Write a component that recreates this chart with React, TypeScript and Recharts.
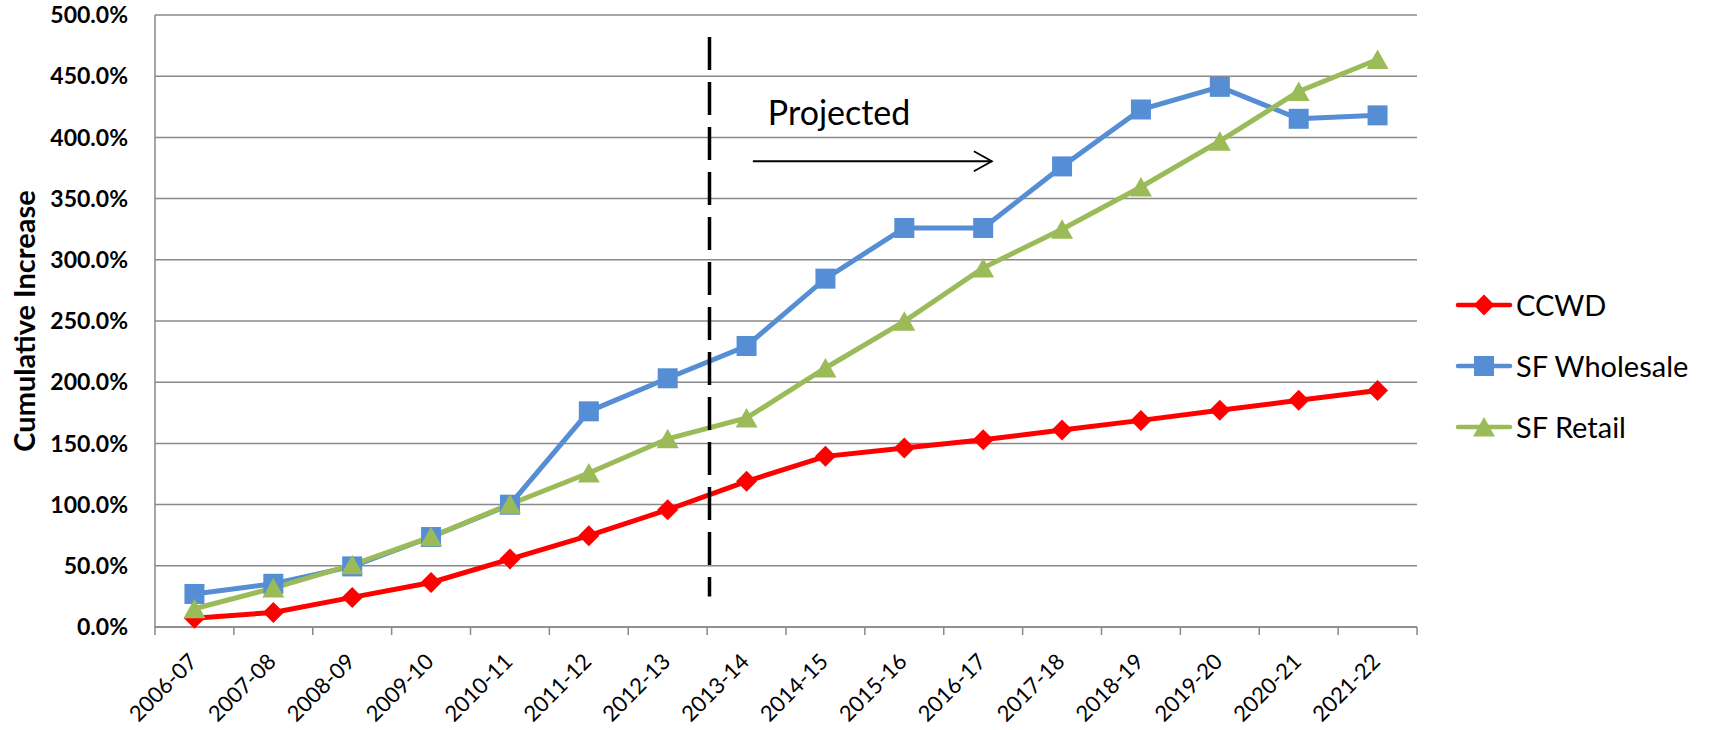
import {
  LineChart,
  Line,
  XAxis,
  YAxis,
  CartesianGrid,
  Legend,
  Label,
  ReferenceLine,
} from "recharts";

// Fiscal years
const years = [
  "2006-07", "2007-08", "2008-09", "2009-10", "2010-11", "2011-12", "2012-13", "2013-14",
  "2014-15", "2015-16", "2016-17", "2017-18", "2018-19", "2019-20", "2020-21", "2021-22",
];

// Cumulative increase, percent
const ccwd = [7.2, 11.9, 24.2, 36.4, 55.5, 74.6, 95.8, 119, 139.4, 146.2, 153, 161, 168.8, 177, 185.2, 193.3];
const sfWholesale = [27, 35.3, 49.5, 73.5, 99.9, 176.2, 203.2, 229.6, 284.6, 326, 326, 376.3, 422.8, 441.3, 415.2, 418];
const sfRetail = [14.9, 31.8, 50.8, 73.7, 100.3, 125.8, 153.8, 170.8, 211.6, 249.7, 293.4, 325, 359.5, 396.9, 437.5, 463.6];

const yTicks = [0, 50, 100, 150, 200, 250, 300, 350, 400, 450, 500];

// x is measured in categories: category i sits in the middle of [i, i + 1]
const projectionStart = 7.03; // dashed line between 2012-13 and 2013-14
const arrowFrom = 7.58;
const arrowTo = 10.61;
const arrowLevel = 380.5;

const series = [
  { key: "ccwd", name: "CCWD", color: "#FF0000" },
  { key: "wholesale", name: "SF Wholesale", color: "#558ED5" },
  { key: "retail", name: "SF Retail", color: "#9BBB59" },
];

const data = years.map((year, i) => ({
  pos: i + 0.5,
  year,
  ccwd: ccwd[i],
  wholesale: sfWholesale[i],
  retail: sfRetail[i],
}));

const FONT = "Lato, 'Liberation Sans', sans-serif";
const CHART_W = 1735;
const CHART_H = 730;
const MARGIN = { top: 15, right: 318, bottom: 0, left: 0 };
const YAXIS_W = 155;
const XAXIS_H = 103;
const AXIS_Y = CHART_H - MARGIN.bottom - XAXIS_H;
const BAND = (CHART_W - MARGIN.left - MARGIN.right - YAXIS_W) / years.length;
const GRID = "#898989";

const Diamond = ({ cx, cy, color, r = 10.5 }: any) => (
  <path d={`M${cx} ${cy - r}L${cx + r} ${cy}L${cx} ${cy + r}L${cx - r} ${cy}Z`} fill={color} />
);
const Square = ({ cx, cy, color, s = 10 }: any) => (
  <rect x={cx - s} y={cy - s} width={s * 2} height={s * 2} fill={color} />
);
const Triangle = ({ cx, cy, color }: any) => (
  <path d={`M${cx} ${cy - 10}L${cx + 11} ${cy + 9.5}L${cx - 11} ${cy + 9.5}Z`} fill={color} />
);

const markerFor: Record<string, any> = { ccwd: Diamond, wholesale: Square, retail: Triangle };

const dotRenderer = (key: string, color: string) => (p: any) => {
  const Marker = markerFor[key];
  return <Marker key={`${key}-${p.index}`} cx={p.cx} cy={p.cy} color={color} />;
};

// label centred on the category, tick marks on the category boundaries (Excel style)
const XTick = (props: any) => {
  const { x, payload, index } = props;
  const last = index === years.length - 1;
  const ax = x + 4;
  const ay = AXIS_Y + 36;
  return (
    <g>
      <line x1={x - BAND / 2} x2={x - BAND / 2} y1={AXIS_Y} y2={AXIS_Y + 8} stroke={GRID} strokeWidth={1.5} />
      {last && (
        <line x1={x + BAND / 2} x2={x + BAND / 2} y1={AXIS_Y} y2={AXIS_Y + 8} stroke={GRID} strokeWidth={1.5} />
      )}
      <text
        x={ax}
        y={ay}
        transform={`rotate(-45 ${ax} ${ay})`}
        textAnchor="end"
        fontFamily={FONT}
        fontSize={22}
        fill="#000"
      >
        {years[Math.floor(payload.value)]}
      </text>
    </g>
  );
};

const ArrowShape = (p: any) => {
  const { x1, y1, x2, y2 } = p;
  return (
    <g>
      <line x1={x1} y1={y1} x2={x2} y2={y2} stroke="#000" strokeWidth={1.8} />
      <polyline
        points={`${x2 - 18},${y2 - 10} ${x2},${y2} ${x2 - 18},${y2 + 10}`}
        fill="none"
        stroke="#000"
        strokeWidth={1.8}
      />
      <text x={x1 + 15} y={y1 - 36} fontFamily={FONT} fontSize={34} fill="#000">
        Projected
      </text>
    </g>
  );
};

const LegendContent = () => (
  <div style={{ fontFamily: FONT, fontSize: 29, color: "#000" }}>
    {series.map((s) => {
      const Marker = markerFor[s.key];
      return (
        <div key={s.key} style={{ display: "flex", alignItems: "center", height: 61 }}>
          <svg width={58} height={30}>
            <line x1={3} x2={55} y1={15} y2={15} stroke={s.color} strokeWidth={4.5} strokeLinecap="round" />
            <Marker cx={29} cy={15} color={s.color} />
          </svg>
          <span style={{ marginLeft: 3, whiteSpace: "nowrap" }}>{s.name}</span>
        </div>
      );
    })}
  </div>
);

export default function App() {
  return (
    <div style={{ position: "absolute", left: 0, top: 0, background: "#fff" }}>
      <LineChart width={CHART_W} height={CHART_H} data={data} margin={MARGIN}>
        <CartesianGrid vertical={false} stroke={GRID} strokeWidth={1.5} />
        <XAxis
          dataKey="pos"
          type="number"
          domain={[0, years.length]}
          allowDataOverflow
          ticks={data.map((d) => d.pos)}
          interval={0}
          height={XAXIS_H}
          tickLine={false}
          axisLine={{ stroke: GRID, strokeWidth: 1.5 }}
          tick={<XTick />}
        />
        <YAxis
          width={YAXIS_W}
          domain={[0, 500]}
          ticks={yTicks}
          tickFormatter={(v: number) => `${v.toFixed(1)}%`}
          tickLine={false}
          tickSize={0}
          tickMargin={27}
          axisLine={{ stroke: GRID, strokeWidth: 1.5 }}
          tick={{ fontFamily: FONT, fontSize: 23, fontWeight: 700, fill: "#000" }}
        >
          <Label
            content={(p: any) => {
              const vb = p.viewBox;
              const cy = vb.y + vb.height / 2;
              return (
                <text
                  x={23}
                  y={cy}
                  transform={`rotate(-90 23 ${cy})`}
                  textAnchor="middle"
                  dominantBaseline="central"
                  fontFamily={FONT}
                  fontSize={29}
                  fontWeight={700}
                  fill="#000"
                >
                  Cumulative Increase
                </text>
              );
            }}
          />
        </YAxis>
        <Legend
          align="center"
          verticalAlign="middle"
          content={<LegendContent />}
          wrapperStyle={{ left: 1455, top: 274, width: 280 }}
        />
        {series.map((s) => (
          <Line
            key={s.key}
            dataKey={s.key}
            name={s.name}
            stroke={s.color}
            strokeWidth={5}
            dot={dotRenderer(s.key, s.color)}
            activeDot={false}
            isAnimationActive={false}
          />
        ))}
        <ReferenceLine
          segment={[
            { x: projectionStart, y: 482 },
            { x: projectionStart, y: 25 },
          ]}
          stroke="#000"
          strokeWidth={3.5}
          strokeDasharray="33 12"
        />
        <ReferenceLine
          segment={[
            { x: arrowFrom, y: arrowLevel },
            { x: arrowTo, y: arrowLevel },
          ]}
          shape={ArrowShape}
        />
      </LineChart>
    </div>
  );
}
